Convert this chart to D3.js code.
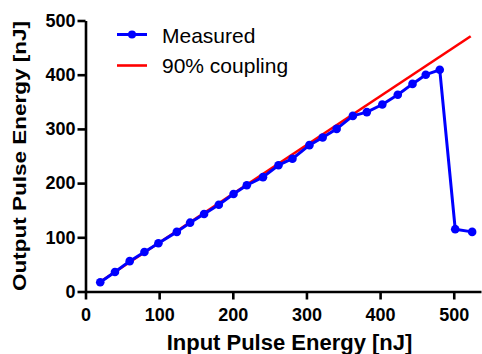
<!DOCTYPE html>
<html>
<head>
<meta charset="utf-8">
<script src="https://cdn.jsdelivr.net/npm/d3@7"></script>
<style>
  html, body { margin: 0; padding: 0; background: #fff; }
  svg { display: block; }
  text { font-family: "Liberation Sans", Arial, Helvetica, sans-serif; }
</style>
</head>
<body>
<svg id="chart" width="482" height="354"></svg>
<script>
// ---- data ----
const measuredInput  = [20, 40, 60, 80, 99, 124, 142, 161, 181, 201, 219, 241, 262, 281, 304, 322, 341, 363, 382, 403, 424, 444, 462, 481, 502, 525];
const measuredOutput = [17, 36, 56, 73, 89, 110, 127, 143, 160, 180, 196, 211, 233, 245, 270, 284, 300, 324, 331, 345, 363, 383, 400, 409, 115, 110];
const couplingInput  = [20, 523];
const couplingOutput = [18, 471];
const xTicks = [0, 100, 200, 300, 400, 500];
const yTicks = [0, 100, 200, 300, 400, 500];
const legendLabels = ["Measured", "90% coupling"];
const xTitle = "Input Pulse Energy [nJ]";
const yTitle = "Output Pulse Energy [nJ]";

// ---- layout ----
const svg = d3.select("#chart");
const x = d3.scaleLinear().domain([0, 537]).range([85.5, 481]);
const y = d3.scaleLinear().domain([0, 500]).range([291.5, 20.5]);
const blue = "#0000ff", red = "#ff0000";

// axes
const xAxis = svg.append("g").attr("transform", `translate(0,${y(0)})`)
  .call(d3.axisBottom(x).tickValues(xTicks).tickSize(8).tickSizeOuter(0).tickPadding(9));
const yAxis = svg.append("g").attr("transform", `translate(${x(0)},0)`)
  .call(d3.axisLeft(y).tickValues(yTicks).tickSize(8).tickSizeOuter(0).tickPadding(2));
[xAxis, yAxis].forEach(g => {
  g.select(".domain").attr("stroke", "#000").attr("stroke-width", 2.6);
  g.selectAll(".tick line").attr("stroke", "#000").attr("stroke-width", 2.6);
  g.selectAll(".tick text").attr("fill", "#000")
    .style("font-family", '"Liberation Sans", Arial, sans-serif')
    .style("font-size", "18px").style("font-weight", "bold");
});

// 90% coupling line
const line = d3.line().x(d => x(d[0])).y(d => y(d[1]));
svg.append("path")
  .datum(couplingInput.map((v, i) => [v, couplingOutput[i]]))
  .attr("d", line).attr("fill", "none").attr("stroke", red).attr("stroke-width", 2.6);

// measured
const meas = measuredInput.map((v, i) => [v, measuredOutput[i]]);
svg.append("path").datum(meas).attr("d", line)
  .attr("fill", "none").attr("stroke", blue).attr("stroke-width", 3).attr("stroke-linejoin", "round");
svg.append("g").selectAll("circle").data(meas).join("circle")
  .attr("cx", d => x(d[0])).attr("cy", d => y(d[1])).attr("r", 4.3).attr("fill", blue);

// legend
const leg = svg.append("g");
leg.append("line").attr("x1", 117).attr("x2", 147).attr("y1", 34.5).attr("y2", 34.5)
  .attr("stroke", blue).attr("stroke-width", 3);
leg.append("circle").attr("cx", 132).attr("cy", 34.5).attr("r", 4).attr("fill", blue);
leg.append("line").attr("x1", 117).attr("x2", 147).attr("y1", 65.5).attr("y2", 65.5)
  .attr("stroke", red).attr("stroke-width", 2.6);
leg.selectAll("text").data(legendLabels).join("text")
  .attr("x", 162).attr("y", (d, i) => 42.5 + i * 30.5)
  .style("font-size", "21px").attr("fill", "#000").text(d => d);

// axis titles
svg.append("text").attr("x", 289.5).attr("y", 350).attr("text-anchor", "middle")
  .style("font-size", "22px").style("font-weight", "bold").text(xTitle);
svg.append("text").attr("transform", "translate(26,156) rotate(-90)")
  .attr("text-anchor", "middle")
  .attr("textLength", 270).attr("lengthAdjust", "spacingAndGlyphs")
  .style("font-size", "18px").style("font-weight", "bold").text(yTitle);
</script>
</body>
</html>
